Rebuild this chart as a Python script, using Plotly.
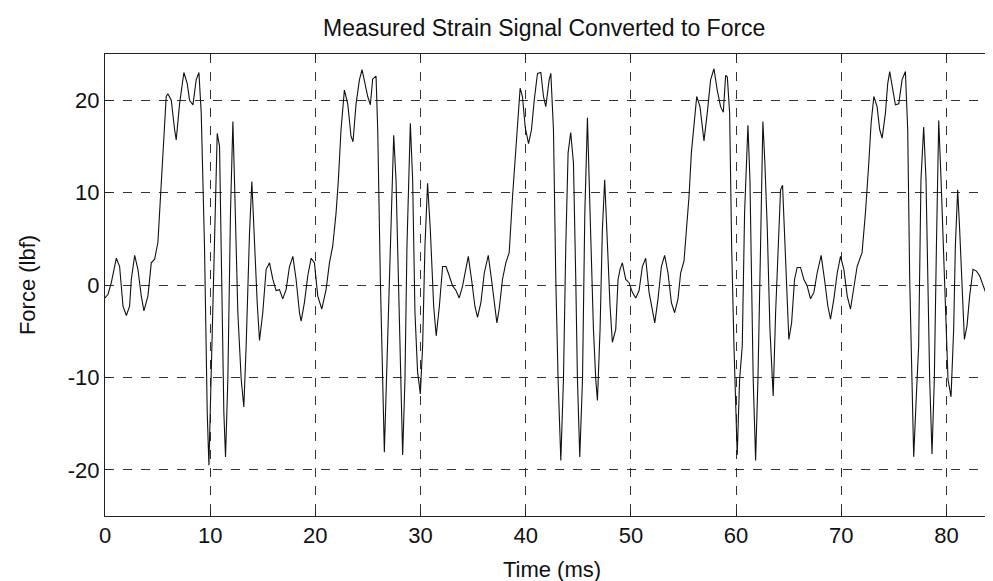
import plotly.graph_objects as go

# Time (ms) and force (lbf) samples
time_ms = [
    0.00, 0.29, 0.60, 1.08, 1.39, 1.71, 2.03, 2.34, 2.50, 2.82, 3.13, 3.45, 3.70, 4.08, 4.40, 4.72,
    5.03, 5.29, 5.51, 5.82, 5.98, 6.30, 6.62, 6.77, 7.09, 7.50, 7.82, 8.04, 8.36, 8.67, 8.93, 9.15,
    9.46, 9.72, 9.88, 10.10, 10.41, 10.67, 10.89, 11.05, 11.30, 11.46, 11.68, 11.93, 12.16, 12.31,
    12.63, 12.95, 13.20, 13.42, 13.74, 13.96, 14.21, 14.47,
    14.69, 15.00, 15.32, 15.64, 15.96, 16.27, 16.59, 16.90, 17.22, 17.54, 17.86, 18.17, 18.49, 18.65,
    18.96, 19.28, 19.60, 19.91, 20.23, 20.61, 21.02, 21.34, 21.65, 21.97, 22.19, 22.44, 22.76, 23.08,
    23.39, 23.58, 23.87, 24.19, 24.44, 24.72, 24.98, 25.23, 25.45, 25.77, 25.93, 26.18, 26.40, 26.56,
    26.81, 27.04, 27.26, 27.45, 27.67, 27.89, 28.08, 28.30, 28.52, 28.71,
    29.03, 29.25, 29.47, 29.72, 29.98, 30.20, 30.42, 30.67, 30.93, 31.25, 31.49, 31.79, 32.10, 32.42,
    32.73, 33.05, 33.37, 33.68, 34.00, 34.32, 34.54, 34.85, 35.17, 35.42, 35.74, 36.06, 36.44, 36.75,
    37.01, 37.26, 37.48, 37.79, 38.11, 38.43, 38.75, 38.97, 39.22, 39.47, 39.69, 39.95, 40.27, 40.55,
    40.81, 41.12, 41.44, 41.69, 41.91, 42.23, 42.39,
    42.64, 42.86, 43.08, 43.34, 43.59, 43.81, 44.03, 44.28, 44.54, 44.76, 44.92, 45.14, 45.40, 45.62,
    45.87, 46.12, 46.44, 46.66, 46.82, 47.07, 47.29, 47.51, 47.77, 48.02, 48.24, 48.56, 48.78, 48.97,
    49.19, 49.51, 49.83, 50.14, 50.46, 50.78, 51.09, 51.41, 51.73, 52.04, 52.27, 52.58, 52.90, 53.21,
    53.53, 53.85, 54.16, 54.48, 54.73, 55.05, 55.30, 55.53, 55.75, 56.00, 56.26, 56.57, 56.79, 56.95,
    57.26, 57.58, 57.90, 58.21, 58.53, 58.79, 59.01, 59.17, 59.39, 59.58, 59.80, 59.96, 60.11, 60.34,
    60.59, 60.81, 61.13, 61.32, 61.48, 61.63, 61.86, 62.08, 62.33, 62.55, 62.74, 62.97, 63.22, 63.44,
    63.53, 63.76, 64.01, 64.23, 64.42, 64.61, 64.80, 65.02, 65.28, 65.56, 65.81, 66.13, 66.45, 66.76,
    67.08, 67.40, 67.71, 68.09, 68.41, 68.73, 68.98, 69.30, 69.62, 69.93, 70.25, 70.57, 70.88,
    71.19, 71.51, 71.98, 72.30, 72.62, 72.84, 73.10, 73.41, 73.66, 73.89, 74.20, 74.42, 74.61, 74.93,
    75.15, 75.47, 75.78, 76.10, 76.32, 76.51, 76.73, 76.89, 77.14, 77.36, 77.58, 77.84, 78.06, 78.25,
    78.41, 78.63, 78.85, 79.05, 79.27, 79.49, 79.74, 79.96, 80.15, 80.44, 80.69, 80.85, 81.07, 81.26,
    81.48, 81.71, 81.96, 82.21, 82.53, 82.85, 83.16, 83.54, 83.86, 84.11, 84.43, 84.75, 84.97, 85.10,
]

force_lbf = [
    -1.4, -1.0, 0.25, 2.9, 2.0, -2.3, -3.3, -2.3, 0.6, 3.2, 1.7, -1.2, -2.8, -1.2, 2.4, 2.8,
    4.6, 9.6, 15.0, 20.4, 20.7, 20.0, 16.8, 15.7, 19.6, 23.0, 21.8, 20.0, 19.5, 22.2, 23.0, 18.6,
    4.2, -13.8, -19.5, -10.2, 4.2, 16.4, 15.0, 4.2, -13.8, -18.6, -10.2, 7.8, 17.7, 11.4,
    -3.0, -10.2, -13.2, -6.6, 5.6, 11.2, 4.2, -1.9,
    -6.0, -3.0, 1.7, 2.4, 0.6, -0.6, -0.5, -1.5, -0.5, 2.0, 3.1, 0.6, -3.0, -3.9,
    -1.9, 1.0, 2.9, 2.4, -1.2, -2.6, -0.5, 2.4, 4.2, 7.8, 11.4, 16.8, 21.1, 19.6,
    16.1, 15.5, 19.6, 22.2, 23.3, 21.8, 20.4, 19.5, 22.3, 22.6, 16.8, 0.6, -10.2, -18.1,
    -8.4, 0.6, 11.4, 16.2, 11.4, 0.6, -10.2, -18.4, -10.2, 4.2,
    17.5, 11.4, -3.0, -9.4, -11.8, -6.6, 4.2, 11.0, 6.0, -2.3, -5.5, -2.3, 2.0, 2.0,
    1.0, -0.1, -0.6, -1.4, -0.1, 2.0, 3.1, 0.6, -2.3, -3.5, -1.9, 1.3, 3.2, 0.6,
    -1.9, -4.1, -2.6, 0.6, 2.4, 3.5, 9.6, 13.5, 17.5, 21.3, 20.4, 17.1, 15.3, 16.8,
    20.0, 22.9, 23.0, 20.4, 19.3, 22.2, 22.9,
    16.8, 0.6, -10.2, -19.0, -10.2, 4.2, 14.3, 16.5, 13.2, 0.6, -10.2, -18.6, -10.2, 7.8,
    18.1, 7.8, -4.8, -10.2, -12.5, -4.8, 6.0, 11.4, 4.2, -2.3, -6.2, -4.8, 0.6, 1.7,
    2.4, 0.6, 0.25, -0.8, -1.4, -0.6, 2.0, 2.9, -0.8, -2.6, -4.1, -1.5, 2.0, 3.2,
    1.3, -1.9, -3.0, -1.5, 1.3, 2.6, 6.0, 9.6, 14.3, 17.5, 20.4, 19.3, 16.8, 15.6,
    18.6, 22.2, 23.4, 21.1, 19.3, 18.7, 22.7, 22.5, 18.6, 4.2, -6.6, -13.8, -18.4, -10.2,
    -6.6, 7.8, 17.3, 11.4, 0.6, -10.2, -19.0, -10.2, 4.2, 17.7, 13.2, 6.0, -4.8, -10.2,
    -12.0, -3.0, 4.2, 10.3, 10.8, 6.0, 0.6, -5.9, -4.1, 0.6, 1.9, 1.9, 0.6, -0.1,
    -1.5, -0.8, 1.3, 3.2, 0.6, -2.3, -3.7, -1.5, 1.3, 3.1, 1.7, -1.2, -2.6,
    -0.5, 2.0, 3.5, 7.8, 13.2, 17.5, 20.4, 19.3, 16.8, 15.9, 18.6, 21.8, 23.1, 21.1,
    19.5, 19.6, 22.2, 23.1, 16.8, 0.6, -10.2, -18.6, -12.0, -6.6, 11.4, 17.1, 11.4, -3.0,
    -10.2, -18.3, -10.2, 4.2, 17.8, 11.4, 2.4, -3.0, -10.2, -12.1, -4.8, 4.2, 10.3, 6.0,
    0.6, -5.9, -4.4, -1.2, 1.7, 1.5, 1.0, -0.1, -1.2, -1.7, -0.1, 2.8, 3.2, 2.8,
]

x_ticks = [0, 10, 20, 30, 40, 50, 60, 70, 80]
y_ticks = [-20, -10, 0, 10, 20]

title_text = "Measured Strain Signal Converted to Force"
x_title = "Time (ms)"
y_title = "Force (lbf)"

FONT = "Arial, Liberation Sans, Helvetica, sans-serif"

fig = go.Figure(
    go.Scatter(
        x=time_ms,
        y=force_lbf,
        mode="lines",
        line=dict(color="#111111", width=1.1),
        hoverinfo="x+y",
    )
)

axis_common = dict(
    showline=True,
    linecolor="#222222",
    linewidth=1,
    mirror="ticks",
    ticks="inside",
    ticklen=6,
    tickcolor="#222222",
    showgrid=True,
    gridcolor="#333333",
    gridwidth=1,
    griddash="dash",
    zeroline=False,
    tickfont=dict(family=FONT, size=22, color="#111111"),
    title_font=dict(family=FONT, size=22, color="#111111"),
)

fig.update_xaxes(
    range=[0, 85],
    tickvals=x_ticks,
    ticktext=[str(v) for v in x_ticks],
    title_text=x_title,
    title_standoff=14,
    **axis_common,
)
fig.update_yaxes(
    range=[-25, 25],
    tickvals=y_ticks,
    ticktext=[str(v) for v in y_ticks],
    title_text=y_title,
    title_standoff=26,
    **axis_common,
)

fig.update_layout(
    width=993,
    height=581,
    margin=dict(l=97, r=2, t=46, b=73),
    paper_bgcolor="white",
    plot_bgcolor="white",
    showlegend=False,
    title=dict(
        text=title_text,
        x=0.54,
        xanchor="center",
        y=0.966,
        yanchor="middle",
        font=dict(family=FONT, size=23, color="#111111"),
    ),
)

fig.write_html("out.html")
